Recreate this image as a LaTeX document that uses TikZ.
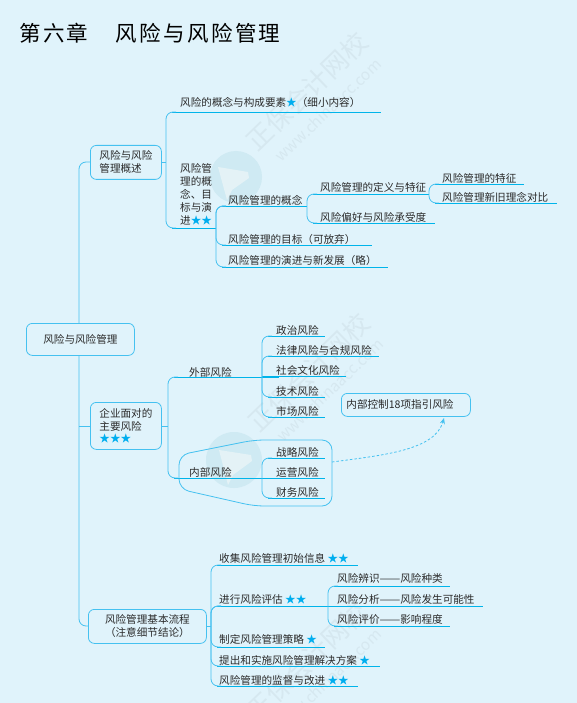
\documentclass[tikz,border=0pt]{standalone}
\usepackage{fontspec}
\setmainfont{Noto Sans CJK SC}
\usetikzlibrary{arrows.meta}
\definecolor{bgc}{HTML}{E0F3FB}
\definecolor{linec}{HTML}{00B4EA}
\definecolor{busc}{HTML}{45C1F0}
\definecolor{starc}{HTML}{00AEEF}
\definecolor{txtc}{HTML}{2A2A2A}
\definecolor{wmc}{HTML}{D6E8F0}
\definecolor{logoc}{HTML}{CFEAF3}
\definecolor{logoi}{HTML}{E4F2F6}
\newcommand{\st}[1]{\textcolor{starc}{#1}}
\newcommand{\dashes}{\scalebox{1.17}[1]{——}}
\tikzset{
  x=1pt,y=-1pt,
  every node/.style={font=\fontsize{10.6}{12.9}\selectfont,text=txtc,inner sep=0pt},
  lab/.style={anchor=west,yshift=-0.6pt},
  ul/.style={draw=linec,line width=0.9pt},
  bus/.style={draw=busc,line width=0.8pt,rounded corners=7pt},
  boxn/.style={draw=busc,line width=0.8pt,rounded corners=6pt,fill=bgc},
  wm/.style={font=\fontsize{26}{26}\selectfont,text=wmc,rotate=44},
  wmu/.style={font=\fontsize{15.5}{15.5}\selectfont,text=wmc,rotate=44}
}
% name, bus x, end x, underline y, text x, text y, text
\newcommand{\labM}[7]{%
  \coordinate (#1-l) at (#2,#4);\coordinate (#1-r) at (#3,#4);
  \draw[ul] (#1-l) -- (#1-r);
  \node[lab] (#1) at (#5,#6) {#7};}
\newcommand{\labE}[7]{%
  \coordinate (#1-l) at (#2,#4);\coordinate (#1-r) at (#3,#4);
  \draw[ul,shorten <=6pt] (#1-l) -- (#1-r);
  \node[lab] (#1) at (#5,#6) {#7};}
\newcommand{\busline}[2]{\draw[bus] ([xshift=10pt]#1-l) -- (#1-l) -- (#2-l) -- ([xshift=10pt]#2-l);}
\begin{document}
\begin{tikzpicture}
\useasboundingbox (0,0) rectangle (577,703);
\fill[bgc] (0,0) rectangle (577,703);
% watermarks
\node[wm] (w1) at (307,91) {正保会计网校};
\node[wmu] (w1u) at (328,110) {www.chinaacc.com};
\node[wm] (w2) at (309,372) {正保会计网校};
\node[wmu] (w2u) at (330,390) {www.chinaacc.com};
\node[wm] (w3) at (307,661) {正保会计网校};
\node[wmu] (w3u) at (328,680) {www.chinaacc.com};
\fill[logoc] (236,177) circle (26);
\fill[logoc] (234,460) circle (28);
\fill[logoi] (218,167) -- (248,172) -- (249,178) -- (232,190) -- (227,200) -- cycle;
\fill[logoi] (219,450) -- (251,455) -- (252,461) -- (233,475) -- (228,485) -- cycle;
% title
\node[anchor=west,font=\fontsize{21.5}{24}\selectfont,text=black] (title) at (19,33) {\addfontfeature{LetterSpace=11}第六章};
\node[anchor=west,font=\fontsize{21.5}{24}\selectfont,text=black] (title2) at (115.5,33) {\addfontfeature{LetterSpace=11}风险与风险管理};
% part 1
\labE{a1}{166}{381}{112}{180}{102}{风险的概念与构成要素\st{★}（细小内容）}
\labE{a2}{166}{216}{228}{180}{194}{\parbox[c]{33pt}{\raggedright 风险管\\理的概\\念、目\\标与演\\进\st{★★}}}
\labE{b1}{216}{307}{206}{228}{200}{风险管理的概念}
\labE{b2}{216}{372}{245}{228}{239}{风险管理的目标（可放弃）}
\labE{b3}{216}{388}{267}{228}{260}{风险管理的演进与新发展（略）}
\labE{c1}{307}{429}{194}{320}{187}{风险管理的定义与特征}
\labE{c2}{307}{435}{223}{320}{217}{风险偏好与风险承受度}
\labE{d1}{429}{524}{184}{442}{178}{风险管理的特征}
\labE{d2}{429}{557}{203}{442}{197}{风险管理新旧理念对比}
\busline{a1}{a2}
\busline{b1}{b2}
\busline{b1}{b3}
\busline{c1}{c2}
\busline{d1}{d2}
% part 2
\labE{e1}{168}{279}{377}{189}{372}{外部风险}
\labE{e2}{168}{325}{478}{189}{472}{内部风险}
\labE{f1}{262}{325}{336}{276}{330}{政治风险}
\labE{f2}{262}{379}{356}{276}{350}{法律风险与合规风险}
\labM{f3}{262}{346}{376}{276}{370}{社会文化风险}
\labE{f4}{262}{325}{397}{276}{391}{技术风险}
\labE{f5}{262}{325}{417}{276}{411}{市场风险}
\labE{g1}{262}{325}{458}{276}{452}{战略风险}
\labM{g2}{262}{325}{478}{276}{472}{运营风险}
\labE{g3}{262}{325}{498}{276}{492}{财务风险}
\busline{e1}{e2}
\busline{f1}{f5}
\busline{f2}{f4}
\busline{g1}{g3}
% enclosure
\draw[draw=busc,line width=0.8pt,rounded corners=10pt] (179,455) -- (254,440) -- (332,440) -- (332,506) -- (254,506) -- (179,489) -- cycle;
\coordinate (encl) at (332,462);
\coordinate (kt) at (444,418);
% part 3
\labE{h1}{211}{358}{565}{219}{558}{收集风险管理初始信息 \st{★★}}
\labE{h2}{211}{328}{606}{219}{599}{进行风险评估 \st{★★}}
\labE{h3}{211}{325}{647}{219}{639}{制定风险管理策略 \st{★}}
\labE{h4}{211}{380}{666}{219}{659.5}{提出和实施风险管理解决方案 \st{★}}
\labE{h5}{211}{358}{686}{219}{680}{风险管理的监督与改进 \st{★★}}
\labE{i1}{328}{450}{586}{337}{578}{风险辨识\dashes 风险种类}
\labM{i2}{328}{483}{606}{337}{599}{风险分析\dashes 风险发生可能性}
\labE{i3}{328}{450}{626}{337}{619}{风险评价\dashes 影响程度}
\busline{h1}{h5}
\busline{h2}{h3}
\busline{h2}{h4}
\busline{i1}{i3}
% trunk
\coordinate (tt) at (79,162);
\coordinate (tb) at (79,626);
\draw[bus] (90,162) -- (tt) -- (tb) -- (88,626);
% boxes
\node[boxn,minimum width=108pt,minimum height=32pt,anchor=north west] (root) at (26,323) {风险与风险管理};
\node[boxn,minimum width=71pt,minimum height=34pt,anchor=north west] (p1) at (90,145) {\parbox{53pt}{风险与风险\\管理概述}};
\node[boxn,minimum width=71pt,minimum height=47pt,anchor=north west] (p2) at (90,402) {\parbox{53pt}{企业面对的\\主要风险\\\st{★★★}}};
\node[boxn,minimum width=118pt,minimum height=34pt,anchor=north west,align=center] (p3) at (88,609) {风险管理基本流程\\（注意细节结论）};
\node[boxn,minimum width=129pt,minimum height=23pt,anchor=north west] (k) at (341,393) {\parbox{119pt}{内部控制18项指引风险}};
\draw[bus,rounded corners=0pt] (p1.east) -- (a2-l |- p1.east);
\draw[bus,rounded corners=0pt] (p2.east) -- (e1-l |- p2.east);
\draw[bus,rounded corners=0pt] (p3.east) -- (h1-l |- p3.east);
\draw[bus,rounded corners=0pt] (tt |- p2.west) -- (p2.west);
\draw[draw=busc,line width=0.8pt,dash pattern=on 2.5pt off 2pt,-{Stealth[length=6pt,width=5pt]}] (encl) .. controls (385,455) and (435,450) .. (kt);
\end{tikzpicture}
\end{document}
